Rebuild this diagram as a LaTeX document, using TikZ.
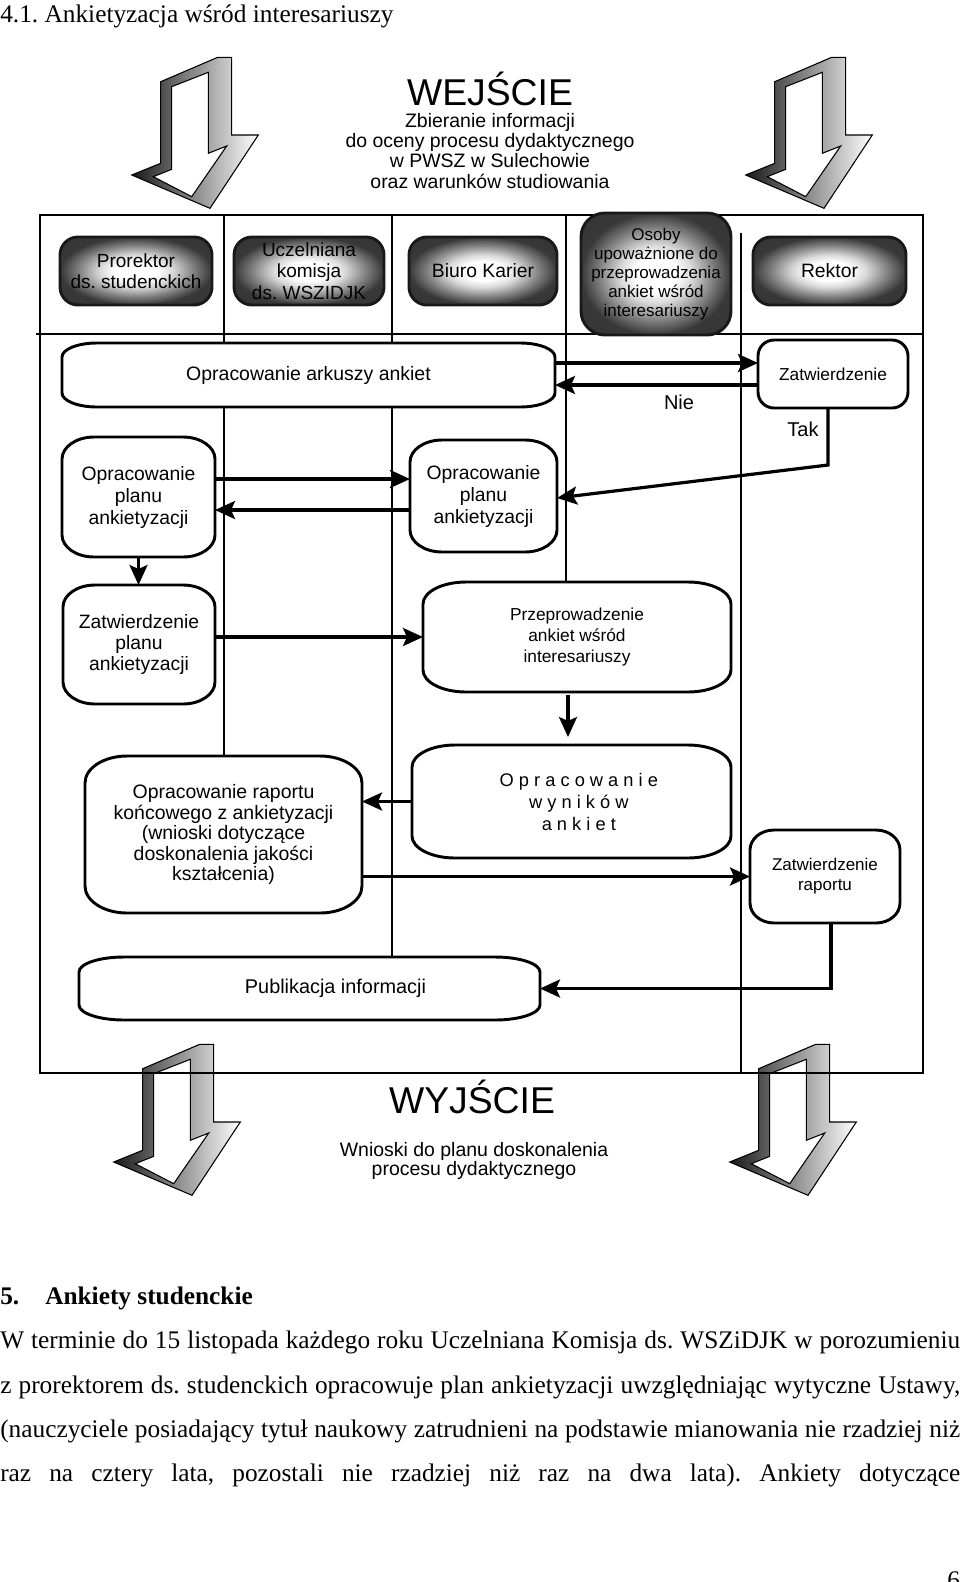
\documentclass[tikz,border=0pt]{standalone}
\usepackage{fontspec}
\setmainfont{Liberation Serif}
\newfontfamily\arialf{Liberation Sans}
\usetikzlibrary{arrows.meta,calc,shadings}
\pgfdeclarelayer{bg}
\pgfdeclarelayer{mid}
\pgfsetlayers{bg,mid,main}
\pgfdeclareradialshading{hdrshade}{\pgfpoint{0bp}{0bp}}{color(0bp)=(white); color(7bp)=(white); color(12bp)=(black!15); color(19bp)=(black!50); color(25bp)=(black!78); color(50bp)=(black!82)}
\def\PXU{0.75pt}
\newcommand\fsz[2]{\arialf\fontsize{#1}{#2}\selectfont}
\newcommand\ebox[4]{%
 \draw[#4] ($(#1.north west)+(#2,0)$) -- ($(#1.north east)+(-#2,0)$)
  .. controls ($(#1.north east)+(-0.448*#2,0)$) and ($(#1.north east)+(0,0.448*#3)$) .. ($(#1.north east)+(0,#3)$)
  -- ($(#1.south east)+(0,-#3)$)
  .. controls ($(#1.south east)+(0,-0.448*#3)$) and ($(#1.south east)+(-0.448*#2,0)$) .. ($(#1.south east)+(-#2,0)$)
  -- ($(#1.south west)+(#2,0)$)
  .. controls ($(#1.south west)+(0.448*#2,0)$) and ($(#1.south west)+(0,-0.448*#3)$) .. ($(#1.south west)+(0,-#3)$)
  -- ($(#1.north west)+(0,#3)$)
  .. controls ($(#1.north west)+(0,0.448*#3)$) and ($(#1.north west)+(0.448*#2,0)$) .. ($(#1.north west)+(#2,0)$)
  -- cycle;}
\newcommand\bigarrow[2]{%
 \begin{scope}[shift={(#1,#2)}]
  \draw[bigarr] (160.7,81.7) -- (217.7,57.3) -- (231.7,57.3) -- (231.7,135) -- (258.3,135) -- (210,208.3) -- (131.7,175) -- (160.7,163.3) -- cycle;
  \draw[line width=0.8pt, fill=white] (171.7,86.7) -- (208.3,72.3) -- (208.3,153.3) -- (226.7,146) -- (191.7,196.7) -- (153.3,176.7) -- (171.7,169.3) -- cycle;
 \end{scope}}
\tikzset{
 tb/.style={draw=none, inner sep=0pt, outer sep=0pt, align=center},
 wh/.style 2 args={minimum width=#1*\PXU, minimum height=#2*\PXU},
 hshade/.style={draw=black!90, line width=2.2pt, shade, shading=hdrshade},
 wshape/.style={draw=black, line width=2.2pt, fill=white},
 arr/.style={line width=2.4pt, -{Stealth[length=15pt,width=13.5pt,inset=3pt]}},
 lane/.style={line width=0.9pt},
 frame/.style={line width=1.1pt},
 lbl/.style={inner sep=0pt, font=\fsz{15}{17}},
 bigarr/.style={line width=0.8pt, left color=black!90, right color=white},
 txt/.style={inner sep=0pt, anchor=base west, font=\fontsize{19}{23}\selectfont},
 ctxt/.style={inner sep=0pt, anchor=base},
}
\frenchspacing
\begin{document}
\begin{tikzpicture}[x=0.75pt,y=-0.75pt]
\useasboundingbox (0,0) rectangle (960,1582);
\begin{pgfonlayer}{bg}
 \fill[white] (0,0) rectangle (960,1582);
 \bigarrow{0}{0}
 \bigarrow{614}{0}
 \bigarrow{-18}{987}
 \bigarrow{598}{987}
 \draw[frame] (40,215) rectangle (923,1073);
 \draw[frame] (36,334) -- (923,334);
 \draw[lane] (224,215) -- (224,756);
 \draw[lane] (392,215) -- (392,957);
 \draw[lane] (566,215) -- (566,582);
 \draw[lane] (741,233) -- (741,1073);
\end{pgfonlayer}

% title
\node[txt] (title) at (0,22) {4.1. Ankietyzacja wśród interesariuszy};

% input
\node[ctxt, font=\fsz{28}{32}] (wej) at (490,105) {WEJŚCIE};
\node[ctxt, font=\fsz{14.6}{16}] (wej1) at (490,127) {Zbieranie informacji};
\node[ctxt, font=\fsz{14.6}{16}] (wej2) at (490,147) {do oceny procesu dydaktycznego};
\node[ctxt, font=\fsz{14.6}{16}] (wej3) at (490,167) {w PWSZ w Sulechowie};
\node[ctxt, font=\fsz{14.6}{16}] (wej4) at (490,188) {oraz warunków studiowania};

% header lanes
\node[tb, wh={152}{68}, font=\fsz{14.25}{16}] (prorektor) at (136,271) {Prorektor\\ds. studenckich};
\node[tb, wh={150}{68}, font=\fsz{14.25}{16}] (komisja) at (309,271) {Uczelniana\\komisja\\ds. WSZIDJK};
\node[tb, wh={148}{68}, font=\fsz{14.5}{16}] (biuro) at (483,271) {Biuro Karier};
\node[tb, wh={150}{122}, font=\fsz{12.75}{14.25}] (osoby) at (656,274) {Osoby\\upoważnione do\\przeprowadzenia\\ankiet wśród\\interesariuszy};
\node[tb, wh={153}{68}, font=\fsz{14.5}{16}] (rektor) at (829.5,271) {Rektor};

% process boxes
\node[tb, wh={493}{64}, font=\fsz{14.6}{16}] (arkusz) at (308.5,375) {Opracowanie arkuszy ankiet};
\node[tb, wh={150}{68}, font=\fsz{13}{15}] (zatw1) at (833,374) {Zatwierdzenie};
\node[tb, wh={153}{120}, font=\fsz{14.5}{16.5}] (plan1) at (138.5,497) {Opracowanie\\planu\\ankietyzacji};
\node[tb, wh={147}{112}, font=\fsz{14.5}{16.5}] (plan2) at (483.5,496) {Opracowanie\\planu\\ankietyzacji};
\node[tb, wh={152}{119}, font=\fsz{14.5}{16}] (zplan) at (139,644.5) {Zatwierdzenie\\planu\\ankietyzacji};
\node[tb, wh={308}{110}, font=\fsz{13}{16}] (przep) at (577,637) {Przeprowadzenie\\ankiet wśród\\interesariuszy};
\node[tb, wh={319}{113}, font=\fsz{13.7}{16.5}] (wyniki) at (571.5,801.5) {\hspace*{11pt}O p r a c o w a n i e\\\hspace*{11pt}w y n i k ó w\\\hspace*{11pt}a n k i e t};
\node[tb, wh={277}{157}, font=\fsz{14.6}{15.4}] (raport) at (223.5,834.5) {Opracowanie raportu\\końcowego z ankietyzacji\\(wnioski dotyczące\\doskonalenia jakości\\kształcenia)};
\node[tb, wh={150}{93}, font=\fsz{12.75}{15}] (zrap) at (825,876.5) {Zatwierdzenie\\raportu};
\node[tb, wh={461}{63}, font=\fsz{14.9}{16}] (publ) at (309.5,988.5) {\hspace*{39pt}Publikacja informacji};

\begin{pgfonlayer}{mid}
 \ebox{prorektor}{18}{18}{hshade}
 \ebox{komisja}{18}{18}{hshade}
 \ebox{biuro}{18}{18}{hshade}
 \ebox{osoby}{24}{24}{hshade}
 \ebox{rektor}{18}{18}{hshade}
 \ebox{arkusz}{35}{14}{wshape}
 \ebox{zatw1}{16}{16}{wshape}
 \ebox{plan1}{32}{22}{wshape}
 \ebox{plan2}{32}{22}{wshape}
 \ebox{zplan}{32}{22}{wshape}
 \ebox{przep}{43}{22}{wshape}
 \ebox{wyniki}{43}{22}{wshape}
 \ebox{raport}{42}{27}{wshape}
 \ebox{zrap}{24}{20}{wshape}
 \ebox{publ}{45}{15}{wshape}
\end{pgfonlayer}

% connectors
\coordinate (c1) at ([yshift=9pt]arkusz.east);
\draw[arr] (c1) -- (c1 -| zatw1.west);
\coordinate (c2) at ([yshift=-8.25pt]zatw1.west);
\draw[arr] (c2) -- (c2 -| arkusz.east);
\node[lbl] (nie) at (679,402) {Nie};
\coordinate (c3) at ([xshift=-3.75pt]zatw1.south);
\coordinate (tk) at (828,465);
\draw[arr] (c3) -- (tk) -- ([yshift=-1.5pt]plan2.east);
\node[lbl] (tak) at (803,429) {Tak};
\coordinate (c4) at ([yshift=13.5pt]plan1.east);
\draw[arr] (c4) -- (c4 -| plan2.west);
\coordinate (c5) at ([yshift=-10.5pt]plan2.west);
\draw[arr] (c5) -- (c5 -| plan1.east);
\draw[arr] (plan1.south) -- (plan1.south |- zplan.north);
\draw[arr] (zplan.east |- przep.west) -- (przep.west);
\coordinate (c8) at ([xshift=-6.75pt]przep.south);
\draw[arr, shorten <=2pt, shorten >=6pt] (c8) -- (c8 |- wyniki.north);
\draw[arr] (wyniki.west) -- (wyniki.west -| raport.east);
\draw[arr] (raport.east |- zrap.west) -- (zrap.west);
\coordinate (c11) at ([xshift=4.5pt]zrap.south);
\draw[arr] (c11) |- (publ.east);

% output
\node[ctxt, font=\fsz{28}{32}] (wyj) at (472,1113) {WYJŚCIE};
\node[ctxt, font=\fsz{14.6}{16}] (wyj1) at (474,1156) {Wnioski do planu doskonalenia};
\node[ctxt, font=\fsz{14.6}{16}] (wyj2) at (474,1175) {procesu dydaktycznego};

% body text
\node[txt] (h5n) at (0,1304) {\bfseries 5.};
\node[txt] (h5t) at (45,1304) {\bfseries Ankiety studenckie};
\node[txt] (l1) at (0,1348) {\makebox[720pt][s]{W terminie do 15 listopada każdego roku Uczelniana Komisja ds. WSZiDJK w porozumieniu}};
\node[txt] (l2) at (0,1393) {\makebox[720pt][s]{z prorektorem ds. studenckich opracowuje plan ankietyzacji uwzględniając wytyczne Ustawy,}};
\node[txt] (l3) at (0,1437) {\makebox[720pt][s]{(nauczyciele posiadający tytuł naukowy zatrudnieni na podstawie mianowania nie rzadziej niż}};
\node[txt] (l4) at (0,1481) {\makebox[720pt][s]{raz na cztery lata, pozostali nie rzadziej niż raz na dwa lata). Ankiety dotyczące}};
\node[txt] (pg) at (947,1588) {6};
\end{tikzpicture}
\end{document}
